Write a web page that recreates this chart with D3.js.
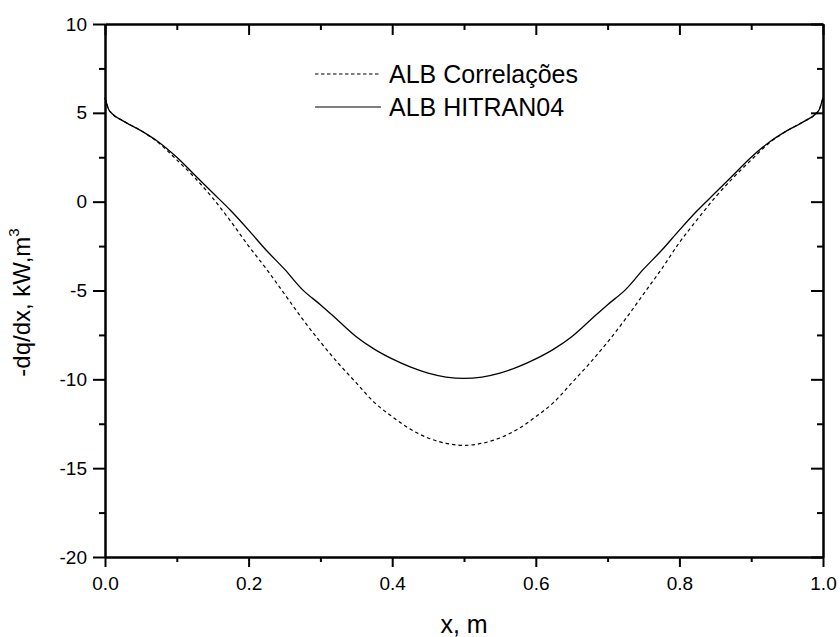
<!DOCTYPE html>
<html><head><meta charset="utf-8">
<script src="https://cdn.jsdelivr.net/npm/d3@7"></script>
<style>body{margin:0;background:#fff}svg{display:block}text{font-family:"Liberation Sans",Arial,sans-serif}</style>
</head><body><svg id="c" width="840" height="637"></svg>
<script>
const xValues = [0, 0.005, 0.01, 0.025, 0.05, 0.075, 0.1, 0.125, 0.15, 0.175, 0.2, 0.225, 0.25, 0.275, 0.3, 0.325, 0.35, 0.375, 0.4, 0.425, 0.45, 0.475, 0.5,
  0.525, 0.55, 0.575, 0.6, 0.625, 0.65, 0.675, 0.7, 0.725, 0.75, 0.775, 0.8, 0.825, 0.85, 0.875, 0.9, 0.925, 0.95, 0.975, 0.99, 0.995, 1.0];
const hitran04 = [5.85, 5.2, 4.95, 4.55, 4.0, 3.35, 2.5, 1.5, 0.5, -0.5, -1.6, -2.75, -3.8, -4.95, -5.8, -6.7, -7.6, -8.3, -8.85, -9.3, -9.65, -9.87, -9.95,
  -9.87, -9.65, -9.3, -8.85, -8.3, -7.6, -6.7, -5.8, -4.95, -3.8, -2.75, -1.6, -0.5, 0.5, 1.5, 2.5, 3.35, 4.0, 4.55, 4.95, 5.2, 5.85];
const correlacoes = [5.85, 5.2, 4.95, 4.55, 4.0, 3.3, 2.35, 1.35, 0.2, -1.1, -2.5, -3.8, -5.2, -6.6, -7.9, -9.1, -10.2, -11.3, -12.1, -12.8, -13.3, -13.6, -13.72,
  -13.6, -13.3, -12.8, -12.1, -11.3, -10.2, -9.1, -7.9, -6.6, -5.2, -3.8, -2.3, -1.0, 0.25, 1.35, 2.35, 3.3, 4.0, 4.55, 4.95, 5.2, 5.85];
const xMajor = [0, 0.2, 0.4, 0.6, 0.8, 1.0];
const xMinor = [0.1, 0.3, 0.5, 0.7, 0.9];
const yMajor = [-20, -15, -10, -5, 0, 5, 10];
const yMinor = [-17.5, -12.5, -7.5, -2.5, 2.5, 7.5];
const seriesNames = ["ALB Correlações", "ALB HITRAN04"];

const L = 105, R = 823, T = 24, B = 557;
const svg = d3.select("#c");
const x = d3.scaleLinear().domain([0, 1]).range([L, R]);
const y = d3.scaleLinear().domain([-20, 10]).range([B, T]);

function styleAxis(g) {
  g.selectAll("path.domain").attr("stroke", "#000").attr("stroke-width", 2);
  g.selectAll(".tick line").attr("stroke", "#000").attr("stroke-width", 2);
  g.selectAll("text").attr("font-size", 19).attr("fill", "#000").attr("font-family", '"Liberation Sans", Arial, sans-serif');
}
// bottom
svg.append("g").attr("transform", `translate(0,${B})`)
  .call(d3.axisBottom(x).tickValues(xMinor).tickSize(5).tickSizeOuter(0).tickFormat("")).call(styleAxis);
svg.append("g").attr("transform", `translate(0,${B})`)
  .call(d3.axisBottom(x).tickValues(xMajor).tickSize(10).tickSizeOuter(0).tickPadding(10).tickFormat(d3.format(".1f"))).call(styleAxis);
// top
svg.append("g").attr("transform", `translate(0,${T})`)
  .call(d3.axisTop(x).tickValues(xMinor).tickSize(-6).tickSizeOuter(0).tickFormat("")).call(styleAxis);
svg.append("g").attr("transform", `translate(0,${T})`)
  .call(d3.axisTop(x).tickValues(xMajor).tickSize(-11).tickSizeOuter(0).tickFormat("")).call(styleAxis);
// left
svg.append("g").attr("transform", `translate(${L},0)`)
  .call(d3.axisLeft(y).tickValues(yMinor).tickSize(6).tickSizeOuter(0).tickFormat("")).call(styleAxis);
svg.append("g").attr("transform", `translate(${L},0)`)
  .call(d3.axisLeft(y).tickValues(yMajor).tickSize(12).tickSizeOuter(0).tickPadding(6).tickFormat(d => String(d))).call(styleAxis);
// right
svg.append("g").attr("transform", `translate(${R},0)`)
  .call(d3.axisRight(y).tickValues(yMinor).tickSize(-6).tickSizeOuter(0).tickFormat("")).call(styleAxis);
svg.append("g").attr("transform", `translate(${R},0)`)
  .call(d3.axisRight(y).tickValues(yMajor).tickSize(-12).tickSizeOuter(0).tickFormat("")).call(styleAxis);

const line = d3.line().x((d, i) => x(xValues[i])).y(d => y(d)).curve(d3.curveMonotoneX);
svg.append("path").datum(correlacoes).attr("d", line).attr("fill", "none")
  .attr("stroke", "#000").attr("stroke-width", 1.2).attr("stroke-dasharray", "3.5,3");
svg.append("path").datum(hitran04).attr("d", line).attr("fill", "none")
  .attr("stroke", "#000").attr("stroke-width", 1.3);

// legend
const leg = svg.append("g");
const legY = [74, 107];
seriesNames.forEach((n, i) => {
  leg.append("line").attr("x1", 315).attr("x2", 381).attr("y1", legY[i]).attr("y2", legY[i])
    .attr("stroke", "#000").attr("stroke-width", 1.2).attr("stroke-dasharray", i === 0 ? "3.5,2.5" : null);
  leg.append("text").attr("x", 389).attr("y", legY[i] + 9).attr("font-size", 25).text(n);
});

// axis titles
svg.append("text").attr("x", (L + R) / 2).attr("y", 633).attr("text-anchor", "middle").attr("font-size", 25).text("x, m");
const yt = svg.append("text").attr("transform", `translate(30,${(T + B) / 2 + 12}) rotate(-90)`)
  .attr("text-anchor", "middle").attr("font-size", 24);
yt.append("tspan").text("-dq/dx, kW,m");
yt.append("tspan").attr("font-size", 15).attr("dy", -11).text("3");
</script></body></html>
